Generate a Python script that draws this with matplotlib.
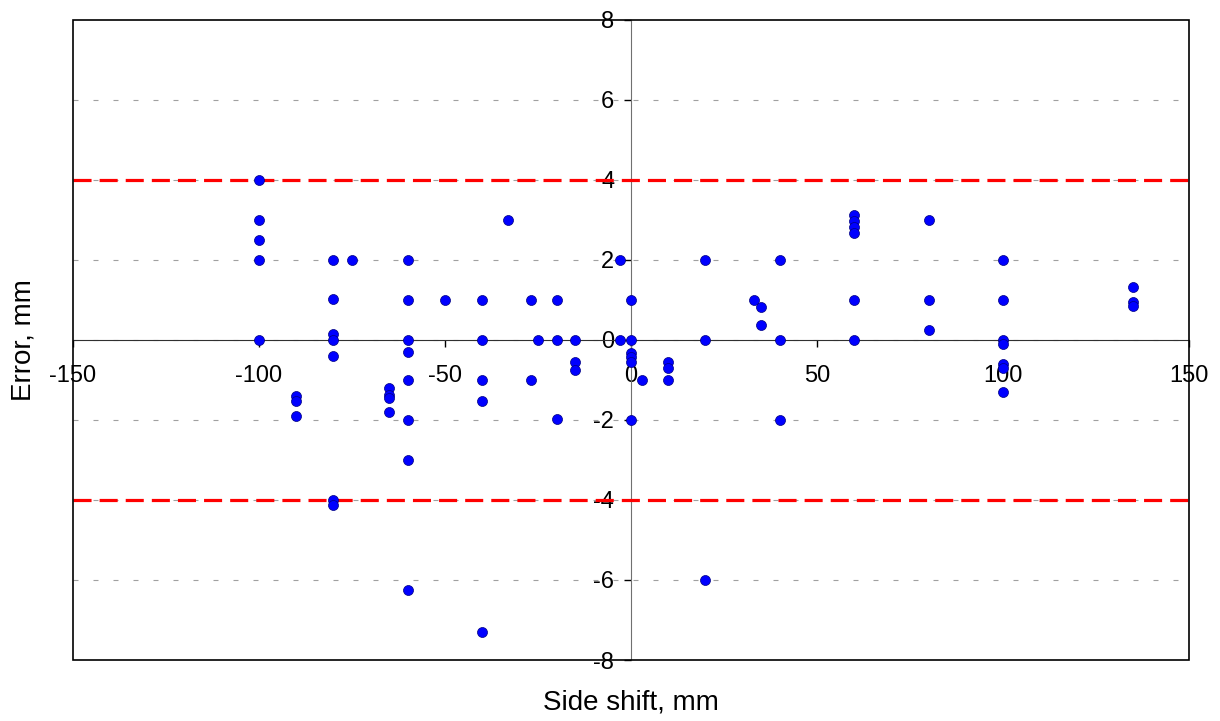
import numpy as np
import matplotlib
matplotlib.use('Agg')
import matplotlib.pyplot as plt
from matplotlib.patches import Rectangle

plt.rcParams['font.family'] = ['Liberation Sans', 'DejaVu Sans']
plt.rcParams['lines.scale_dashes'] = False
plt.rcParams['axes.unicode_minus'] = False

# Side shift (mm) and error (mm)
shift = [-100, -100, -100, -100, -100,
         -90, -90, -90,
         -80, -80, -80, -80, -80, -80, -80,
         -75,
         -65, -65, -65, -65,
         -60, -60, -60, -60, -60, -60, -60, -60,
         -50,
         -40, -40, -40, -40, -40,
         -33,
         -27, -27,
         -25,
         -20, -20, -20,
         -15, -15, -15,
         -3, -3,
         0, 0, 0, 0, 0, 0,
         3,
         10, 10, 10,
         20, 20, 20,
         33,
         35, 35,
         40, 40, 40,
         60, 60, 60, 60, 60, 60,
         80, 80, 80,
         100, 100, 100, 100, 100, 100, 100,
         135, 135, 135]
error = [4.0, 3.0, 2.5, 2.0, 0.0,
         -1.4, -1.52, -1.9,
         2.0, 1.03, 0.14, 0.0, -0.39, -4.0, -4.13,
         2.0,
         -1.19, -1.37, -1.45, -1.8,
         2.0, 1.0, 0.0, -0.3, -1.0, -2.0, -3.0, -6.24,
         1.0,
         1.0, 0.0, -1.0, -1.53, -7.3,
         3.0,
         1.0, -1.0,
         0.0,
         1.0, 0.0, -1.98,
         0.0, -0.54, -0.75,
         2.0, 0.0,
         1.0, 0.0, -0.33, -0.43, -0.55, -2.0,
         -1.0,
         -0.56, -0.69, -1.0,
         2.0, 0.0, -6.0,
         1.0,
         0.83, 0.38,
         2.0, 0.0, -2.0,
         3.13, 2.98, 2.82, 2.68, 1.0, 0.0,
         3.0, 1.0, 0.24,
         2.0, 1.0, 0.0, -0.09, -0.61, -0.71, -1.29,
         1.33, 0.96, 0.84]

limit = 4.0
x_ticks = [-150, -100, -50, 0, 50, 100, 150]
y_ticks = [-8, -6, -4, -2, 0, 2, 4, 6, 8]

fig = plt.figure(figsize=(12.2, 7.21), dpi=100)
ax = fig.add_axes([0.0598, 0.0846, 0.9148, 0.8877])

# dotted grey grid
for yv in y_ticks[1:-1]:
    ax.axhline(yv, color='#a0a0a0', lw=0.8, ls=(0, (3.6, 10.8)), zorder=1)

# tolerance lines
ax.axhline(limit, color='#ff0000', lw=2.3, ls=(0, (13, 5.8)), zorder=3)
ax.axhline(-limit, color='#ff0000', lw=2.3, ls=(0, (13, 5.8)), zorder=3)

ax.plot(shift, error, 'o', color='#0000ff', markeredgecolor='#000080',
        markeredgewidth=0.5, markersize=7.2, zorder=5, clip_on=False)

ax.set_xlim(-150, 150)
ax.set_ylim(-8, 8)
ax.set_xticks(x_ticks)
ax.set_yticks(y_ticks)

# axes cross at the origin, plus a black frame around the plot area
ax.spines['left'].set_position(('data', 0))
ax.spines['bottom'].set_position(('data', 0))
ax.spines['left'].set_color('#707070')
ax.spines['bottom'].set_color('#303030')
ax.spines['top'].set_visible(False)
ax.spines['right'].set_visible(False)
ax.add_patch(Rectangle((0, 0), 1, 1, transform=ax.transAxes, fill=False,
                       lw=1.2, edgecolor='black', zorder=6, clip_on=False))

ax.tick_params(axis='both', direction='out', length=5, width=1,
               colors='black', labelsize=17)
ax.tick_params(axis='x', pad=13)
ax.tick_params(axis='y', pad=7)

ax.set_xlabel('Side shift, mm', fontsize=20, va='center')
ax.set_ylabel('Error, mm', fontsize=20, va='center')
ax.xaxis.set_label_coords(0.5, -0.067)
ax.yaxis.set_label_coords(-0.044, 0.5)

fig.savefig('out.png', dpi=100)
